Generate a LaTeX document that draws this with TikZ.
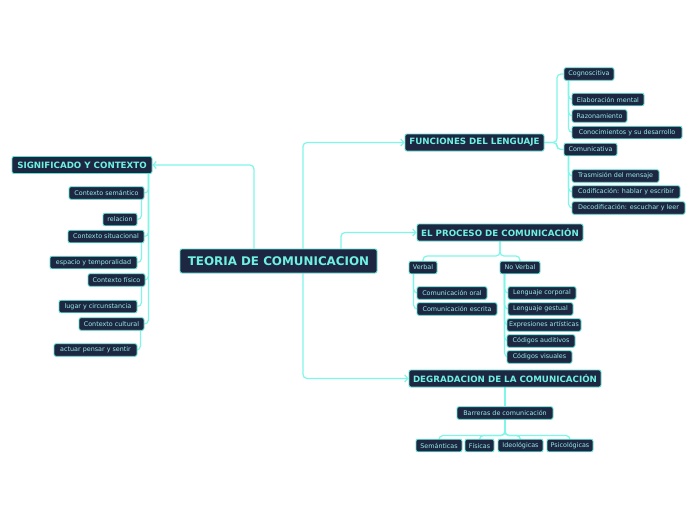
\documentclass[tikz,border=0pt]{standalone}
\usepackage{fontspec}
\setmainfont{DejaVu Sans}
\usetikzlibrary{arrows.meta,backgrounds}
\definecolor{boxfill}{HTML}{1E2742}
\definecolor{boxline}{HTML}{5CE0D2}
\definecolor{conn}{HTML}{7EF7E8}
\definecolor{ttext}{HTML}{6FF0E0}
\definecolor{stext}{HTML}{95EEE6}
\tikzset{
 boxbase/.style={draw=boxline, fill=boxfill, rounded corners=2pt, line width=0.9pt, inner sep=1pt, anchor=center},
 leaf/.style={boxbase, text=stext, font=\fontsize{6.4}{7}\selectfont, minimum height=12.5pt},
 hdr/.style={boxbase, text=ttext, font=\bfseries\fontsize{8.7}{9}\selectfont, minimum height=17pt},
 rootbox/.style={boxbase, text=ttext, font=\bfseries\fontsize{11.9}{12}\selectfont, minimum height=24pt},
 ln/.style={draw=conn, line width=1.2pt, rounded corners=4pt},
 arr/.style={ln, -{Straight Barb[length=3pt,width=7pt]}},
}
\begin{document}
\begin{tikzpicture}[x=1pt,y=-1pt]
\useasboundingbox (0,0) rectangle (696,520);
% root and headers
\node[rootbox, minimum width=197pt] (teo) at (278.5,261) {TEORIA DE COMUNICACION};
\node[hdr, minimum width=140pt] (sig) at (82,165) {SIGNIFICADO Y CONTEXTO};
\node[hdr, minimum width=139pt] (fun) at (474.5,142.5) {FUNCIONES DEL LENGUAJE};
\node[hdr, minimum width=166pt] (pro) at (500,232.5) {EL PROCESO DE COMUNICACIÓN};
\node[hdr, minimum width=192pt] (deg) at (505,378.5) {DEGRADACION DE LA COMUNICACIÓN};
% left subtree
\node[leaf, minimum width=75pt] (cs) at (106.5,193) {Contexto semántico};
\node[leaf, minimum width=34pt] (rel) at (120,219.5) {relacion};
\node[leaf, minimum width=76pt] (csit) at (106,236.5) {Contexto situacional};
\node[leaf, minimum width=87pt] (esp) at (93.5,262.5) {espacio y temporalidad};
\node[leaf, minimum width=57pt] (cf) at (116.5,280) {Contexto físico};
\node[leaf, minimum width=78pt] (lug) at (98,306.5) {lugar y circunstancia};
\node[leaf, minimum width=65pt] (cc) at (111.5,324) {Contexto cultural};
\node[leaf, minimum width=83pt] (act) at (95.5,350) {actuar pensar y sentir};
% funciones subtree
\node[leaf, minimum width=50pt] (cog) at (589,74) {Cognoscitiva};
\node[leaf, minimum width=72pt] (ela) at (608,99.5) {Elaboración mental};
\node[leaf, minimum width=55pt] (raz) at (599.5,116) {Razonamiento};
\node[leaf, minimum width=110pt] (con) at (627,132.5) {Conocimientos y su desarrollo};
\node[leaf, minimum width=53pt] (com) at (590.5,149.5) {Comunicativa};
\node[leaf, minimum width=87pt] (tra) at (615.5,176) {Trasmisión del mensaje};
\node[leaf, minimum width=108pt] (cod) at (626,192) {Codificación: hablar y escribir};
\node[leaf, minimum width=113pt] (dec) at (628.5,208) {Decodificación: escuchar y leer};
% proceso subtree
\node[leaf, minimum width=28pt] (verb) at (423,267.5) {Verbal};
\node[leaf, minimum width=40pt] (nov) at (520,267.5) {No Verbal};
\node[leaf, minimum width=70pt] (co) at (452,293) {Comunicación oral};
\node[leaf, minimum width=80pt] (ce) at (457,309) {Comunicación escrita};
\node[leaf, minimum width=68pt] (lc) at (542,293) {Lenguaje corporal};
\node[leaf, minimum width=65pt] (lg) at (540.5,309) {Lenguaje gestual};
\node[leaf, minimum width=74pt] (ea) at (544,325) {Expresiones artísticas};
\node[leaf, minimum width=68pt] (ca) at (541,341) {Códigos auditivos};
\node[leaf, minimum width=65pt] (cv) at (539.5,357) {Códigos visuales};
% degradacion subtree
\node[leaf, minimum width=96pt] (bar) at (505,413) {Barreras de comunicación};
\node[leaf, minimum width=46pt] (sem) at (439,445.5) {Semánticas};
\node[leaf, minimum width=29pt] (fis) at (479.5,445.5) {Físicas};
\node[leaf, minimum width=45pt] (ide) at (520.5,445.5) {Ideológicas};
\node[leaf, minimum width=46pt] (psi) at (570,445.5) {Psicológicas};
\coordinate (fj) at (557,142.5);
\coordinate (pj) at (500,256);
\coordinate (bj) at (505,435.5);
\begin{pgfonlayer}{background}
\fill[white] (0,0) rectangle (696,520);
\draw[arr] ([xshift=-24.5pt]teo.north) |- (sig.east);
\draw[arr] ([xshift=24.5pt]teo.north) |- (fun.west);
\draw[arr] ([xshift=24.5pt]teo.south) |- (deg.west);
\draw[arr] ([xshift=62.5pt]teo.north) |- (pro.west);
\foreach \c in {cs,csit,cf,cc} \draw[ln] ([xshift=-4pt]sig.south east) |- (\c.east);
\draw[ln] ([xshift=-3pt]cs.south east) |- (rel.east);
\draw[ln] ([xshift=-3pt]csit.south east) |- (esp.east);
\draw[ln] ([xshift=-4pt]cf.south east) |- (lug.east);
\draw[ln] ([xshift=-4pt]cc.south east) |- (act.east);
\draw[ln] (fun.east) -- (fj) |- (cog.west);
\draw[ln] (fun.east) -- (fj) |- (com.west);
\foreach \c in {ela,raz,con} \draw[ln] ([xshift=5pt]cog.south west) |- (\c.west);
\foreach \c in {tra,cod,dec} \draw[ln] ([xshift=5pt]com.south west) |- (\c.west);
\draw[ln] (pro.south) -- (pj) -| (verb.north);
\draw[ln] (pro.south) -- (pj) -| (nov.north);
\foreach \c in {co,ce} \draw[ln] ([xshift=5pt]verb.south west) |- (\c.west);
\foreach \c in {lc,lg,ea,ca,cv} \draw[ln] ([xshift=5pt]nov.south west) |- (\c.west);
\draw[ln] (deg.south) -- (bar.north);
\foreach \c in {sem,fis,ide,psi} \draw[ln] (bar.south) -- (bj) -| (\c.north);
\end{pgfonlayer}
\end{tikzpicture}
\end{document}
